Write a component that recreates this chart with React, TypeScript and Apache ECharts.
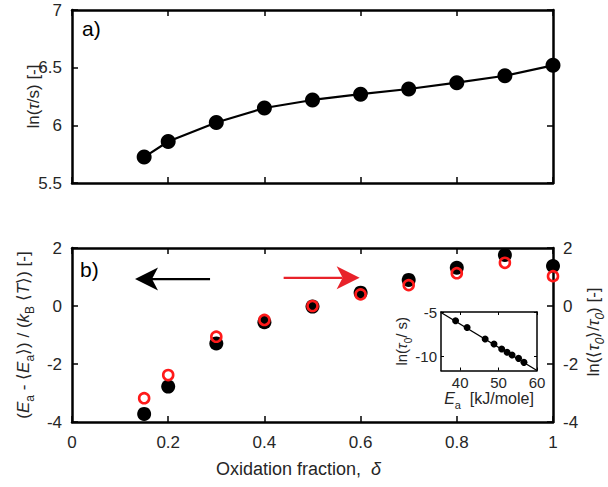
import React, { useEffect, useRef } from 'react';
import * as echarts from 'echarts';

// ---- data ----
const delta = [0.15, 0.2, 0.3, 0.4, 0.5, 0.6, 0.7, 0.8, 0.9, 1.0];
const lnTau = [5.725, 5.86, 6.025, 6.15, 6.22, 6.27, 6.315, 6.37, 6.43, 6.52];
const eaNorm = [-3.72, -2.78, -1.29, -0.56, -0.02, 0.46, 0.9, 1.32, 1.76, 1.38];
const lnTau0Norm = [-3.18, -2.38, -1.06, -0.48, 0.0, 0.4, 0.72, 1.13, 1.49, 1.03];
const insetEa = [38.8, 41.8, 46.5, 48.8, 50.8, 52.2, 53.5, 55.2, 56.6];
const insetLnTau0 = [-5.98, -6.74, -8.04, -8.61, -9.17, -9.55, -9.85, -10.23, -10.68];
const fitEa = [35, 60];
const fitLnTau0 = [-5.05, -11.6];
const arrowFrom = [0.287, 0.44];
const arrowTo = [0.131, 0.598];
const arrowY = [0.93, 0.97];
const insetXTicks = [40, 50, 60];
const insetYTicks = [-10, -5];

const FONT = 'Liberation Sans, Arial, Helvetica, sans-serif';
const TXT = '#262626';
const RED_RING = '#ff1a1a';
const RED_ARROW = '#e8222a';

const rich = (size: number, lh: number) => {
  const s = Math.round(size * 0.68);
  return {
    n: { fontSize: size, fontFamily: FONT, color: TXT, lineHeight: lh },
    i: { fontStyle: 'italic', fontSize: size, fontFamily: FONT, color: TXT, lineHeight: lh },
    sub: { fontSize: s, fontFamily: FONT, color: TXT, verticalAlign: 'bottom', lineHeight: s },
    isub: { fontStyle: 'italic', fontSize: s, fontFamily: FONT, color: TXT, verticalAlign: 'bottom', lineHeight: s },
  };
};

const nameStyle = (size: number, lh: number, extra: any = {}) => ({
  color: TXT, fontSize: size, fontFamily: FONT, lineHeight: lh, rich: rich(size, lh), ...extra,
});

const frameAxis = (opts: any, lw = 2.5, tickLen = 6) => ({
  type: 'value',
  axisLine: { show: true, onZero: false, lineStyle: { color: '#000', width: lw } },
  axisTick: { show: true, inside: true, length: tickLen, lineStyle: { color: '#000', width: lw * 0.6 } },
  splitLine: { show: false },
  axisLabel: { show: false },
  nameMoveOverlap: false,
  ...opts,
});

export default function App() {
  const ref = useRef<HTMLDivElement>(null);
  useEffect(() => {
    if (!ref.current) return;
    const chart = echarts.init(ref.current, undefined, { renderer: 'svg' });
    const xLab = { show: true, color: TXT, fontSize: 17, fontFamily: FONT, margin: 12 };
    const yLab = { show: true, color: TXT, fontSize: 17, fontFamily: FONT, margin: 10 };
    const inLab = { show: true, color: TXT, fontSize: 15, fontFamily: FONT };
    const inTick = (vals: number[]) => ({ show: true, inside: true, length: 3, customValues: vals, lineStyle: { color: '#000', width: 1 } });

    const option: any = {
      animation: false,
      backgroundColor: '#fff',
      grid: [
        { left: 72, top: 10, width: 481, height: 173, outerBoundsMode: 'none', containLabel: false },
        { left: 72, top: 248, width: 481, height: 174, outerBoundsMode: 'none', containLabel: false },
        { left: 441, top: 312, width: 96, height: 58.5, show: true, backgroundColor: '#fff', borderWidth: 0, z: 5, outerBoundsMode: 'none', containLabel: false },
      ],
      xAxis: [
        frameAxis({ gridIndex: 0, position: 'bottom', min: 0, max: 1, interval: 0.2 }),
        frameAxis({ gridIndex: 0, position: 'top', min: 0, max: 1, interval: 0.2 }),
        frameAxis({
          gridIndex: 1, position: 'bottom', min: 0, max: 1, interval: 0.2,
          axisLabel: xLab,
          name: 'Oxidation fraction,  {i|δ}', nameLocation: 'middle', nameGap: 35,
          nameTextStyle: nameStyle(18, 24, { padding: [0, 28, 0, 0] }),
        }),
        frameAxis({ gridIndex: 1, position: 'top', min: 0, max: 1, interval: 0.2 }),
        frameAxis({
          gridIndex: 2, position: 'bottom', min: 35, max: 60, z: 6,
          axisTick: inTick(insetXTicks),
          axisLabel: { ...inLab, margin: 4, customValues: insetXTicks },
          name: '{i|E}{sub|a}  [kJ/mole]', nameLocation: 'middle', nameGap: 16,
          nameTextStyle: nameStyle(16, 24),
        }, 1.5, 3),
        frameAxis({
          gridIndex: 2, position: 'top', min: 35, max: 60, z: 6,
          axisTick: inTick(insetXTicks),
        }, 1.5, 3),
      ],
      yAxis: [
        frameAxis({
          gridIndex: 0, position: 'left', min: 5.5, max: 7, interval: 0.5,
          axisLabel: yLab,
          name: 'ln({i|τ}/s) [-]', nameLocation: 'middle', nameGap: 28, nameRotate: 90,
          nameTextStyle: nameStyle(17, 22),
        }),
        frameAxis({ gridIndex: 0, position: 'right', min: 5.5, max: 7, interval: 0.5 }),
        frameAxis({
          gridIndex: 1, position: 'left', min: -4, max: 2, interval: 2,
          axisLabel: yLab,
          name: '({i|E}{sub|a} - ⟨{i|E}{sub|a}⟩) / ({i|k}{sub|B} ⟨{i|T}⟩) [-]', nameLocation: 'middle', nameGap: 36, nameRotate: 90,
          nameTextStyle: nameStyle(17, 26),
        }),
        frameAxis({
          gridIndex: 1, position: 'right', min: -4, max: 2, interval: 2,
          axisLabel: yLab,
          name: 'ln(⟨{i|τ}{isub|0}⟩/{i|τ}{isub|0}) [-]', nameLocation: 'middle', nameGap: 27, nameRotate: 90,
          nameTextStyle: nameStyle(17, 26, { padding: [0, 0, 0, 6] }),
        }),
        frameAxis({
          gridIndex: 2, position: 'left', min: -11.6, max: -5, z: 6,
          axisTick: inTick(insetYTicks),
          axisLabel: { ...inLab, margin: 4, customValues: insetYTicks },
          name: 'ln({i|τ}{sub|0}/ s)', nameLocation: 'middle', nameGap: 28, nameRotate: 90,
          nameTextStyle: nameStyle(15, 24),
        }, 1.5, 3),
        frameAxis({
          gridIndex: 2, position: 'right', min: -11.6, max: -5, z: 6,
          axisTick: inTick(insetYTicks),
        }, 1.5, 3),
      ],
      graphic: [
        { type: 'text', left: 82, top: 18, style: { text: 'a)', fontSize: 21, fontFamily: FONT, fill: '#000' } },
        { type: 'text', left: 80, top: 259, style: { text: 'b)', fontSize: 21, fontFamily: FONT, fill: '#000' } },
      ],
      series: [
        {
          type: 'line', xAxisIndex: 0, yAxisIndex: 0,
          data: delta.map((d, i) => [d, lnTau[i]]),
          symbol: 'circle', symbolSize: 15,
          lineStyle: { color: '#000', width: 2.2 },
          itemStyle: { color: '#000', opacity: 1 },
        },
        {
          type: 'scatter', xAxisIndex: 2, yAxisIndex: 2,
          data: delta.map((d, i) => [d, eaNorm[i]]),
          symbol: 'circle', symbolSize: 14,
          itemStyle: { color: '#000', opacity: 1 }, z: 3,
        },
        {
          type: 'scatter', xAxisIndex: 2, yAxisIndex: 3,
          data: delta.map((d, i) => [d, lnTau0Norm[i]]),
          symbol: 'circle', symbolSize: 10,
          itemStyle: { color: 'rgba(0,0,0,0)', borderColor: RED_RING, borderWidth: 2.6, opacity: 1 }, z: 4,
        },
        {
          type: 'custom', xAxisIndex: 2, yAxisIndex: 2, z: 4,
          encode: { x: [0, 1], y: 2 },
          data: arrowFrom.map((a, i) => [a, arrowTo[i], arrowY[i], i]),
          renderItem: (params: any, api: any) => {
            const p1 = api.coord([api.value(0), api.value(2)]);
            const p2 = api.coord([api.value(1), api.value(2)]);
            const color = api.value(3) === 0 ? '#000' : RED_ARROW;
            const dx = p2[0] - p1[0], dy = p2[1] - p1[1];
            const len = Math.hypot(dx, dy);
            const ux = dx / len, uy = dy / len;
            const nx = -uy, ny = ux;
            const L = 23, W = 11.5, N = 17;
            const bx = p2[0] - ux * L, by = p2[1] - uy * L;
            const kx = p2[0] - ux * N, ky = p2[1] - uy * N;
            return {
              type: 'group',
              children: [
                { type: 'line', shape: { x1: p1[0], y1: p1[1], x2: kx, y2: ky }, style: { stroke: color, lineWidth: 2.2 } },
                { type: 'polygon', shape: { points: [[p2[0], p2[1]], [bx + nx * W, by + ny * W], [kx, ky], [bx - nx * W, by - ny * W]] }, style: { fill: color } },
              ],
            };
          },
        },
        {
          type: 'line', xAxisIndex: 4, yAxisIndex: 4, z: 7,
          data: fitEa.map((e, i) => [e, fitLnTau0[i]]),
          symbol: 'none', lineStyle: { color: '#000', width: 1.3 },
        },
        {
          type: 'scatter', xAxisIndex: 4, yAxisIndex: 4, z: 8,
          data: insetEa.map((e, i) => [e, insetLnTau0[i]]),
          symbol: 'circle', symbolSize: 7, itemStyle: { color: '#000', opacity: 1 },
        },
      ],
    };
    chart.setOption(option);
    return () => chart.dispose();
  }, []);
  return <div ref={ref} style={{ position: 'absolute', left: 0, top: 0, width: 608, height: 487 }} />;
}
